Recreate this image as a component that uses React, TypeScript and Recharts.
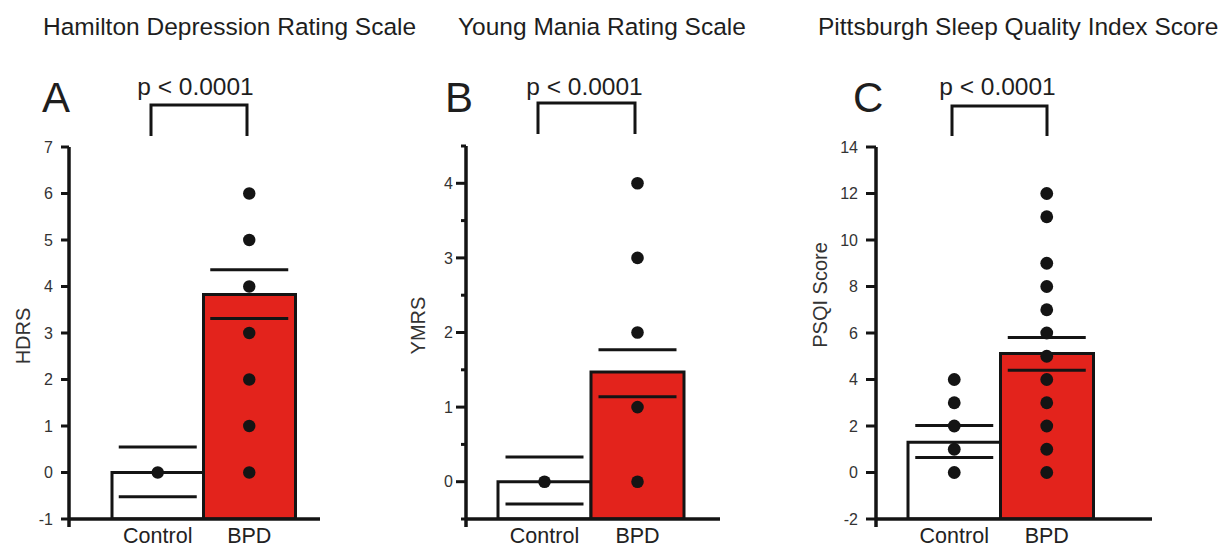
import { ComposedChart, Bar, Cell, Scatter, XAxis, YAxis } from "recharts";

const INK = "#141414";
const RED = "#e3231c";
const FONT = "'Liberation Sans', Arial, Helvetica, sans-serif";

const groups = ["Control", "BPD"];

// A: Hamilton Depression Rating Scale
const hdrsMean = [0, 3.83];
const hdrsUpper = [0.55, 4.36];
const hdrsLower = [-0.52, 3.31];
const hdrsControl = [0];
const hdrsBpd = [0, 1, 2, 3, 4, 5, 6];
const hdrsTicks = [-1, 0, 1, 2, 3, 4, 5, 6, 7];

// B: Young Mania Rating Scale
const ymrsMean = [0, 1.47];
const ymrsUpper = [0.33, 1.77];
const ymrsLower = [-0.3, 1.14];
const ymrsControl = [0];
const ymrsBpd = [0, 1, 2, 3, 4];
const ymrsTicks = [-0.5, 0, 0.5, 1, 1.5, 2, 2.5, 3, 3.5, 4, 4.5];

// C: Pittsburgh Sleep Quality Index
const psqiMean = [1.3, 5.12];
const psqiUpper = [2.02, 5.81];
const psqiLower = [0.64, 4.4];
const psqiControl = [0, 1, 2, 3, 4];
const psqiBpd = [0, 1, 2, 3, 4, 5, 6, 7, 8, 9, 11, 12];
const psqiTicks = [-2, 0, 2, 4, 6, 8, 10, 12, 14];

const titles = [
  "Hamilton Depression Rating Scale",
  "Young Mania Rating Scale",
  "Pittsburgh Sleep Quality Index Score",
];
const letters = ["A", "B", "C"];
const pLabel = "p < 0.0001";

function YTick(props: any) {
  const { x, y, payload, gap, len, minorLen } = props;
  const v = payload.value;
  const major = Number.isInteger(v);
  return (
    <g>
      <line x1={x - (major ? len : minorLen)} x2={x} y1={y} y2={y} stroke={INK} strokeWidth={3} />
      {major && (
        <text x={x - gap} y={y} dy="0.36em" textAnchor="end" fontSize={16} fill="#333" fontFamily={FONT}>
          {v}
        </text>
      )}
    </g>
  );
}

type PanelProps = {
  left: number;
  width: number;
  margin: { top: number; right: number; bottom: number; left: number };
  padding: { left: number; right: number };
  mean: number[];
  upper: number[];
  lower: number[];
  controlPts: number[];
  bpdPts: number[];
  ticks: number[];
  yLabel: string;
  labelDx: number;
  labelDy: number;
  gap: number;
  len: number;
  minorLen: number;
  r: number;
};

function Panel(p: PanelProps) {
  const lo = p.ticks[0];
  const hi = p.ticks[p.ticks.length - 1];
  const bars = groups.map((g, i) => ({ group: g, range: [lo, p.mean[i]] }));
  const errs = groups.flatMap((g, i) => [
    { group: g, v: p.upper[i] },
    { group: g, v: p.lower[i] },
  ]);
  const dots = [
    ...p.controlPts.map((v) => ({ group: groups[0], v })),
    ...p.bpdPts.map((v) => ({ group: groups[1], v })),
  ];
  return (
    <div style={{ position: "absolute", left: p.left, top: 0 }}>
      <ComposedChart width={p.width} height={543} data={bars} margin={p.margin} barCategoryGap={0}>
        <XAxis
          dataKey="group"
          type="category"
          allowDuplicatedCategory={false}
          padding={p.padding}
          height={24}
          tickLine={false}
          tickMargin={3}
          axisLine={{ stroke: INK, strokeWidth: 3.5 }}
          tick={{ fontSize: 21.5, fill: "#222", fontFamily: FONT }}
        />
        <YAxis
          type="number"
          domain={[lo, hi]}
          ticks={p.ticks}
          interval={0}
          allowDataOverflow
          width={60}
          tickSize={0}
          tickMargin={0}
          tickLine={false}
          axisLine={{ stroke: INK, strokeWidth: 3.5 }}
          tick={(t: any) => <YTick {...t} gap={p.gap} len={p.len} minorLen={p.minorLen} />}
          label={{
            value: p.yLabel,
            angle: -90,
            position: "center",
            dx: p.labelDx,
            dy: p.labelDy,
            fontSize: 20,
            fill: "#333",
            fontFamily: FONT,
          }}
        />
        <Bar dataKey="range" stroke={INK} strokeWidth={3} isAnimationActive={false}>
          {bars.map((b, i) => (
            <Cell key={b.group} fill={i === 0 ? "#ffffff" : RED} />
          ))}
        </Bar>
        <Scatter
          data={errs}
          dataKey="v"
          isAnimationActive={false}
          shape={(s: any) => (
            <line x1={s.cx - 39} x2={s.cx + 39} y1={s.cy} y2={s.cy} stroke={INK} strokeWidth={3} />
          )}
        />
        <Scatter
          data={dots}
          dataKey="v"
          isAnimationActive={false}
          shape={(s: any) => <circle cx={s.cx} cy={s.cy} r={p.r} fill={INK} />}
        />
      </ComposedChart>
    </div>
  );
}

const titleX = [43, 458, 818];
const letterX = [42, 445, 853];
const pX = [195.5, 584.5, 997.5];
const bracket = [
  { x1: 151, x2: 247, top: 105, bottom: 136 },
  { x1: 538, x2: 635, top: 103, bottom: 134 },
  { x1: 952, x2: 1047, top: 106, bottom: 136 },
];
const axisFoot = [69, 466, 876];

export default function App() {
  return (
    <div
      style={{
        position: "absolute",
        left: 0,
        top: 0,
        width: 1230,
        height: 543,
        background: "#fff",
        overflow: "hidden",
        fontFamily: FONT,
      }}
    >
      <Panel
        left={0}
        width={330}
        margin={{ top: 147, right: 10, bottom: 0, left: 9 }}
        padding={{ left: 43, right: 25 }}
        mean={hdrsMean}
        upper={hdrsUpper}
        lower={hdrsLower}
        controlPts={hdrsControl}
        bpdPts={hdrsBpd}
        ticks={hdrsTicks}
        yLabel="HDRS"
        labelDx={-16.5}
        labelDy={3}
        gap={16}
        len={8}
        minorLen={8}
        r={6.2}
      />
      <Panel
        left={390}
        width={340}
        margin={{ top: 146, right: 10, bottom: 0, left: 16 }}
        padding={{ left: 32, right: 36 }}
        mean={ymrsMean}
        upper={ymrsUpper}
        lower={ymrsLower}
        controlPts={ymrsControl}
        bpdPts={ymrsBpd}
        ticks={ymrsTicks}
        yLabel="YMRS"
        labelDx={-18.5}
        labelDy={-7}
        gap={13}
        len={10}
        minorLen={5}
        r={6.3}
      />
      <Panel
        left={780}
        width={450}
        margin={{ top: 147, right: 78, bottom: 0, left: 36 }}
        padding={{ left: 32, right: 59 }}
        mean={psqiMean}
        upper={psqiUpper}
        lower={psqiLower}
        controlPts={psqiControl}
        bpdPts={psqiBpd}
        ticks={psqiTicks}
        yLabel="PSQI Score"
        labelDx={-26}
        labelDy={-38}
        gap={18}
        len={10}
        minorLen={10}
        r={6.4}
      />
      <svg
        width={1230}
        height={543}
        style={{ position: "absolute", left: 0, top: 0, pointerEvents: "none" }}
      >
        {titles.map((t, i) => (
          <text key={t} x={titleX[i]} y={35} fontSize={24.5} fill="#1e1e1e" fontFamily={FONT}>
            {t}
          </text>
        ))}
        {letters.map((l, i) => (
          <text key={l} x={letterX[i]} y={112} fontSize={42} fill="#1e1e1e" fontFamily={FONT}>
            {l}
          </text>
        ))}
        {pX.map((x, i) => (
          <text key={i} x={x} y={95} textAnchor="middle" fontSize={24.5} fill="#1e1e1e" fontFamily={FONT}>
            {pLabel}
          </text>
        ))}
        {bracket.map((b, i) => (
          <polyline
            key={i}
            points={`${b.x1},${b.bottom} ${b.x1},${b.top} ${b.x2},${b.top} ${b.x2},${b.bottom}`}
            fill="none"
            stroke={INK}
            strokeWidth={3}
          />
        ))}
        {axisFoot.map((x, i) => (
          <line key={i} x1={x} x2={x} y1={519} y2={527} stroke={INK} strokeWidth={3.5} />
        ))}
      </svg>
    </div>
  );
}
